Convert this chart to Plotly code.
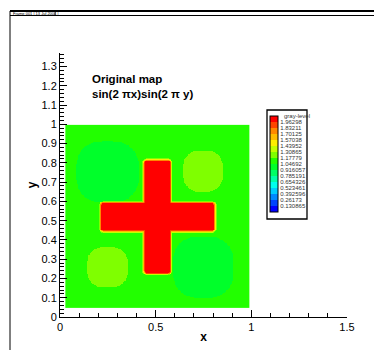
import numpy as np
import plotly.graph_objects as go

# ---- legend levels (gray-level contour levels) ----
levels = [0.130865, 0.26173, 0.392596, 0.523461, 0.654326, 0.785191, 0.916057,
          1.04692, 1.17779, 1.30865, 1.43952, 1.57038, 1.70125, 1.83211, 1.96298]
level_labels = ["0.130865", "0.26173", "0.392596", "0.523461", "0.654326", "0.785191",
                "0.916057", "1.04692", "1.17779", "1.30865", "1.43952", "1.57038",
                "1.70125", "1.83211", "1.96298"]
# one flood colour per band (below first level ... above last level)
band_colors = ["#0000ff", "#0044ff", "#0088ff", "#00ccff", "#00ffee", "#00ffaa",
               "#00ff66", "#00ff2a", "#22ff00", "#7fff00", "#c4ff00", "#ffee00",
               "#ffbb00", "#ff8800", "#ff4400", "#ff0000"]

# ---- map features ----
field_x_range = [0.03, 0.99]
field_y_range = [0.05, 0.995]
background_value = 1.1
cross_bar_x = [[0.445, 0.576], [0.218, 0.806]]
cross_bar_y = [[0.23, 0.81], [0.45, 0.59]]
cross_value = 2.05
blob_cx = [0.249, 0.749, 0.249, 0.750]
blob_cy = [0.753, 0.757, 0.259, 0.259]
blob_rx = [0.165, 0.105, 0.109, 0.160]
blob_ry = [0.160, 0.108, 0.105, 0.161]
blob_value = [0.98, 1.25, 1.25, 0.98]

# ---- build field on a grid ----
xs = np.linspace(field_x_range[0], field_x_range[1], 241)
ys = np.linspace(field_y_range[0], field_y_range[1], 241)
X, Y = np.meshgrid(xs, ys)
Z = np.full_like(X, background_value)
for cx, cy, rx, ry, v in zip(blob_cx, blob_cy, blob_rx, blob_ry, blob_value):
    m = (np.abs(X - cx) / rx) ** 2.6 + (np.abs(Y - cy) / ry) ** 2.6 <= 1.0
    Z[m] = v
corner_r = 0.01
dmin = np.full_like(X, 10.0)
for (bx0, bx1), (by0, by1) in zip(cross_bar_x, cross_bar_y):
    dx = np.maximum(np.maximum((bx0 + corner_r) - X, X - (bx1 - corner_r)), 0)
    dy = np.maximum(np.maximum((by0 + corner_r) - Y, Y - (by1 - corner_r)), 0)
    d = np.sqrt(dx ** 2 + dy ** 2) - corner_r
    dmin = np.minimum(dmin, d)
ramp = np.clip(1 - dmin / 0.014, 0, 1)
Z = Z + (cross_value - Z) * ramp

step = levels[0]
zmax = step * len(band_colors)
colorscale = []
nb = len(band_colors)
for b, c in enumerate(band_colors):
    colorscale.append([b / nb, c])
    colorscale.append([(b + 1) / nb, c])

FONT = "Liberation Sans, Arial, sans-serif"

# The page body has an 8px default margin; size the figure so that it fills the window.
OFF = 8
W, H = 382 - OFF, 350 - OFF
# plot area in window pixels: x 60..347, y 53..317
L = 60 - OFF
R = W - (347 - OFF)
T = 53 - OFF
B = H - (317 - OFF)
PW, PH = W - L - R, H - T - B
def px(xp):
    return (xp - OFF - L) / PW
def py(yp):
    return (H - B - (yp - OFF)) / PH

fig = go.Figure()
fig.add_trace(go.Heatmap(
    x=xs, y=ys, z=Z, zmin=0, zmax=zmax, zsmooth=False,
    colorscale=colorscale, hoverinfo="skip",
    colorbar=dict(
        thickness=8, thicknessmode="pixels", len=96, lenmode="pixels",
        x=px(270), xanchor="left", y=py(116), yanchor="top",
        xpad=0, ypad=0, outlinewidth=1, outlinecolor="black",
        tickvals=levels, ticktext=level_labels, ticks="", ticklen=0,
        tickfont=dict(size=6, family=FONT, color="#333333"),
    ),
))

fig.update_layout(
    width=W, height=H,
    margin=dict(l=L, r=R, t=T, b=B, autoexpand=False),
    paper_bgcolor="white", plot_bgcolor="white",
    font=dict(family=FONT, color="black"),
    showlegend=False,
    xaxis=dict(
        range=[0, 1.5], tick0=0, dtick=0.5, showline=True, linecolor="black",
        linewidth=1, ticks="inside", ticklen=7, tickwidth=1, tickcolor="black",
        minor=dict(dtick=0.1, ticks="inside", ticklen=4, tickcolor="black", tickwidth=1),
        showgrid=False, zeroline=False, tickfont=dict(size=11, family=FONT),
        title=dict(text="<b>x</b>", font=dict(size=12, family=FONT), standoff=0),
        automargin=False,
    ),
    yaxis=dict(
        range=[0, 1.37], tick0=0, dtick=0.1, showline=True, linecolor="black",
        linewidth=1, ticks="inside", ticklen=7, tickwidth=1, tickcolor="black",
        minor=dict(dtick=0.02, ticks="inside", ticklen=4, tickcolor="black", tickwidth=1),
        showgrid=False, zeroline=False, tickfont=dict(size=11, family=FONT),
        title=dict(text="<b>y</b>", font=dict(size=12, family=FONT), standoff=2),
        automargin=False,
    ),
)

shapes = [
    # frame lines
    dict(type="line", xref="paper", yref="paper", x0=px(10), x1=px(390), y0=py(11), y1=py(11),
         line=dict(color="black", width=2)),
    dict(type="line", xref="paper", yref="paper", x0=px(10), x1=px(390), y0=py(15.5), y1=py(15.5),
         line=dict(color="black", width=1)),
    dict(type="line", xref="paper", yref="paper", x0=px(10), x1=px(10), y0=py(11), y1=py(360),
         line=dict(color="black", width=1)),
    dict(type="line", xref="paper", yref="paper", x0=px(55), x1=px(55), y0=py(11), y1=py(15.5),
         line=dict(color="black", width=0.8)),
    # legend box
    dict(type="rect", xref="paper", yref="paper", x0=px(267), x1=px(307), y0=py(219), y1=py(110),
         line=dict(color="black", width=1.3), fillcolor="rgba(0,0,0,0)"),
]
fig.update_layout(shapes=shapes)

fig.add_annotation(xref="paper", yref="paper", x=px(90), y=py(71), xanchor="left", yanchor="top",
                   text="<b>Original map<br>sin(2 \u03c0x)sin(2 \u03c0 y)</b>", showarrow=False,
                   align="left", font=dict(size=11.5, family=FONT, color="black"))
fig.add_annotation(xref="paper", yref="paper", x=px(282), y=py(115.7), xanchor="left", yanchor="middle",
                   text="gray-level", showarrow=False, font=dict(size=6, family=FONT, color="#333333"))
fig.add_annotation(xref="paper", yref="paper", x=px(11), y=py(13.3), xanchor="left", yanchor="middle",
                   text="Frame 001 | 13 Jul 2004 |", showarrow=False,
                   font=dict(size=4, family=FONT, color="black"))

fig.write_html("out.html")
